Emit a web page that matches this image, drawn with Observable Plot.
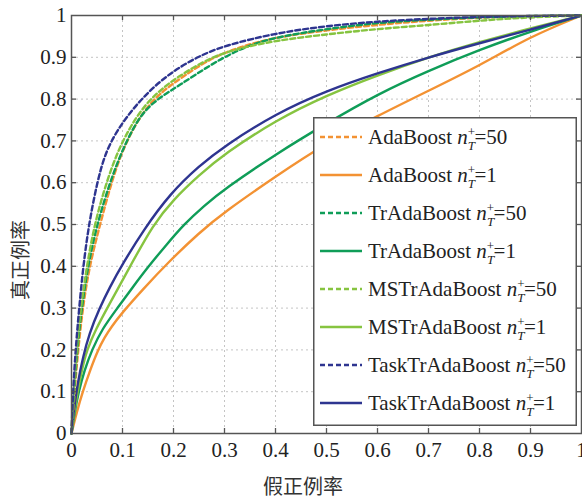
<!DOCTYPE html>
<html><head><meta charset="utf-8">
<script src="https://cdn.jsdelivr.net/npm/d3@7"></script>
<script src="https://cdn.jsdelivr.net/npm/@observablehq/plot@0.6"></script>
<style>
body{margin:0;background:#fff;}
#wrap{position:relative;width:582px;height:501px;}
.ttl{position:absolute;font-family:"Noto Sans CJK SC",sans-serif;font-size:20px;color:#333;white-space:nowrap;line-height:1;}
#legend{position:absolute;left:313px;top:117px;}
</style></head>
<body><div id="wrap"></div>
<script>
// ---- tick values & labels ----
const xTicks = [0,0.1,0.2,0.3,0.4,0.5,0.6,0.7,0.8,0.9,1];
const xTickLabels = ["0","0.1","0.2","0.3","0.4","0.5","0.6","0.7","0.8","0.9","1"];
const yTicks = [0,0.1,0.2,0.3,0.4,0.5,0.6,0.7,0.8,0.9,1];
const yTickLabels = ["0","0.1","0.2","0.3","0.4","0.5","0.6","0.7","0.8","0.9","1"];
const gridTicks = [0.1,0.2,0.3,0.4,0.5,0.6,0.7,0.8,0.9];
const xTitle = "假正例率";
const yTitle = "真正例率";

// ---- series names ----
const methods = ["AdaBoost","AdaBoost","TrAdaBoost","TrAdaBoost","MSTrAdaBoost","MSTrAdaBoost","TaskTrAdaBoost","TaskTrAdaBoost"];
const nValues = ["50","1","50","1","50","1","50","1"];

// ---- ROC curves (false positive rate, true positive rate) ----
const adaBoost50X = [0,0.006,0.013,0.022,0.035,0.056,0.078,0.102,0.141,0.181,0.22,0.272,0.33,0.4,0.5,0.6,0.7,0.8,0.9,1];
const adaBoost50Y = [0,0.1,0.2,0.3,0.4,0.5,0.6,0.686,0.774,0.822,0.855,0.897,0.925,0.948,0.965,0.978,0.988,0.995,0.999,1];
const adaBoost1X = [0,0.01,0.022,0.036,0.052,0.065,0.078,0.1,0.14,0.19,0.25,0.3,0.4,0.5,0.6,0.7,0.8,0.9,1];
const adaBoost1Y = [0,0.05,0.1,0.15,0.2,0.23,0.255,0.29,0.345,0.41,0.48,0.53,0.615,0.695,0.76,0.82,0.88,0.95,1];
const trAda50X = [0,0.005,0.011,0.02,0.032,0.05,0.075,0.1,0.135,0.174,0.213,0.272,0.33,0.389,0.5,0.6,0.7,0.8,0.9,1];
const trAda50Y = [0,0.1,0.2,0.3,0.4,0.5,0.6,0.68,0.765,0.805,0.834,0.882,0.92,0.946,0.968,0.983,0.99,0.996,0.999,1];
const trAda1X = [0,0.006,0.014,0.025,0.04,0.06,0.09,0.12,0.151,0.185,0.22,0.26,0.3,0.4,0.5,0.6,0.7,0.8,0.9,1];
const trAda1Y = [0,0.05,0.1,0.15,0.2,0.25,0.3,0.35,0.4,0.45,0.5,0.545,0.585,0.668,0.742,0.812,0.868,0.918,0.962,1];
const msTrAda50X = [0,0.004,0.01,0.018,0.03,0.045,0.068,0.095,0.135,0.174,0.207,0.272,0.33,0.4,0.5,0.6,0.7,0.8,0.9,1];
const msTrAda50Y = [0,0.1,0.2,0.3,0.4,0.5,0.6,0.69,0.775,0.822,0.852,0.9,0.922,0.94,0.955,0.968,0.977,0.988,0.996,1];
const msTrAda1X = [0,0.005,0.012,0.02,0.03,0.048,0.07,0.115,0.16,0.2,0.25,0.3,0.4,0.5,0.6,0.7,0.8,0.9,1];
const msTrAda1Y = [0,0.05,0.1,0.15,0.2,0.25,0.3,0.4,0.5,0.56,0.618,0.669,0.749,0.809,0.857,0.9,0.937,0.969,1];
const taskTrAda50X = [0,0.003,0.008,0.015,0.023,0.034,0.05,0.068,0.1,0.13,0.16,0.2,0.25,0.3,0.4,0.5,0.6,0.7,0.8,0.9,1];
const taskTrAda50Y = [0,0.1,0.2,0.3,0.4,0.5,0.6,0.68,0.745,0.79,0.828,0.868,0.903,0.928,0.958,0.975,0.986,0.992,0.997,0.999,1];
const taskTrAda1X = [0,0.005,0.012,0.022,0.035,0.055,0.075,0.1,0.14,0.194,0.25,0.3,0.4,0.5,0.6,0.7,0.8,0.9,1];
const taskTrAda1Y = [0,0.06,0.12,0.18,0.24,0.3,0.35,0.405,0.485,0.575,0.64,0.688,0.765,0.82,0.862,0.9,0.934,0.966,1];

const curveXs = [adaBoost50X,adaBoost1X,trAda50X,trAda1X,msTrAda50X,msTrAda1X,taskTrAda50X,taskTrAda1X];
const curveYs = [adaBoost50Y,adaBoost1Y,trAda50Y,trAda1Y,msTrAda50Y,msTrAda1Y,taskTrAda50Y,taskTrAda1Y];

// ---- styles (kept apart from data) ----
const colorOf = {"AdaBoost":"#f39233","TrAdaBoost":"#0f9d58","MSTrAdaBoost":"#86c440","TaskTrAdaBoost":"#2e3590"};
const DASH = "5,3";
const SW = 2.4;

const series = methods.map((m,i)=>({
  key: m + " " + nValues[i], method: m, n: nValues[i],
  color: colorOf[m], dashed: nValues[i] === "50",
  rows: curveXs[i].map((x,j)=>({x, y: curveYs[i][j]}))
}));

const drawOrder = [1,3,5,7,0,2,4,6];
const lineMarks = drawOrder.map(i=>{
  const s = series[i];
  return Plot.line(s.rows, {x:"x", y:"y", stroke: s.color, strokeWidth: SW,
    strokeDasharray: s.dashed ? DASH : null, curve:"basis"});
});

const tickLen = 5;
const frameStroke = "#555";
const fmtX = d => xTickLabels[xTicks.indexOf(d)];
const fmtY = d => yTickLabels[yTicks.indexOf(d)];

const chart = Plot.plot({
  width: 582, height: 501,
  marginLeft: 71, marginRight: 1, marginTop: 15, marginBottom: 68,
  x: {domain: [0,1]}, y: {domain: [0,1]},
  style: {fontFamily: "'Liberation Serif','Times New Roman',serif", fontSize: "21px", color: "#222", background: "#fff"},
  marks: [
    Plot.gridX(gridTicks, {stroke:"#c4c4c4", strokeOpacity:1, strokeDasharray:"2,3", strokeWidth:1}),
    Plot.gridY(gridTicks, {stroke:"#c4c4c4", strokeOpacity:1, strokeDasharray:"2,3", strokeWidth:1}),
    ...lineMarks,
    // inward ticks on all four sides
    Plot.ruleX(gridTicks, {x: d=>d, y1: 0, y2: 0, insetBottom: tickLen, stroke: frameStroke, strokeWidth: 1.3}),
    Plot.ruleX(gridTicks, {x: d=>d, y1: 1, y2: 1, insetTop: tickLen, stroke: frameStroke, strokeWidth: 1.3}),
    Plot.ruleY(gridTicks, {y: d=>d, x1: 0, x2: 0, insetRight: -tickLen, stroke: frameStroke, strokeWidth: 1.3}),
    Plot.ruleY(gridTicks, {y: d=>d, x1: 1, x2: 1, insetLeft: -tickLen, stroke: frameStroke, strokeWidth: 1.3}),
    Plot.frame({stroke: frameStroke, strokeWidth: 1.5}),
    Plot.axisX(xTicks, {tickSize: 0, tickPadding: 9, fontSize: 21, tickFormat: fmtX, label: null}),
    Plot.axisY(yTicks, {tickSize: 0, tickPadding: 5, fontSize: 21, tickFormat: fmtY, label: null})
  ]
});

const wrap = document.getElementById("wrap");
wrap.appendChild(chart);

// axis titles
const xt = document.createElement("div");
xt.className = "ttl"; xt.textContent = xTitle;
xt.style.left = "303px"; xt.style.top = "486px"; xt.style.transform = "translate(-50%,-50%)";
wrap.appendChild(xt);
const yt = document.createElement("div");
yt.className = "ttl"; yt.textContent = yTitle;
yt.style.left = "20px"; yt.style.top = "260px"; yt.style.transform = "translate(-50%,-50%) rotate(-90deg)";
wrap.appendChild(yt);

// legend
const LW = 264, LH = 309, rowGap = 38, firstRow = 20;
const lg = d3.select(wrap).append("svg").attr("id","legend").attr("width", LW).attr("height", LH);
lg.append("rect").attr("x",0.75).attr("y",0.75).attr("width",LW-1.5).attr("height",LH-1.5)
  .attr("fill","#fff").attr("stroke",frameStroke).attr("stroke-width",1.5);
series.forEach((s,i)=>{
  const cy = firstRow + i*rowGap;
  lg.append("line").attr("x1",7).attr("x2",49).attr("y1",cy).attr("y2",cy)
    .attr("stroke",s.color).attr("stroke-width",SW).attr("stroke-dasharray", s.dashed ? DASH : null);
  const t = lg.append("text").attr("x",55).attr("y",cy+7)
    .attr("font-family","'Liberation Serif','Times New Roman',serif").attr("font-size",21).attr("fill","#222");
  t.append("tspan").text(s.method + " ");
  t.append("tspan").attr("font-style","italic").text("n");
  t.append("tspan").attr("font-size",13).attr("dy",-8).text("+");
  t.append("tspan").attr("font-size",13).attr("font-style","italic").attr("dx",-7.3).attr("dy",14).text("T");
  t.append("tspan").attr("dy",-6).attr("dx",-0.5).text("=" + s.n);
});
</script>
</body></html>
